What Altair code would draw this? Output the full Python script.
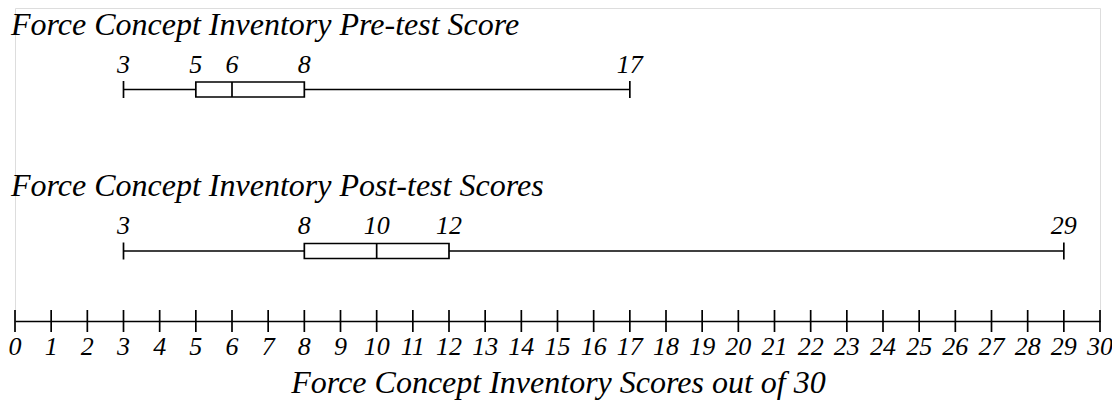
import altair as alt
import pandas as pd

# Summary statistics
groups = ["Force Concept Inventory Pre-test Score", "Force Concept Inventory Post-test Scores"]
mins = [3, 3]
q1s = [5, 8]
medians = [6, 10]
q3s = [8, 12]
maxs = [17, 29]
axis_ticks = list(range(0, 31))
axis_title = "Force Concept Inventory Scores out of 30"

FONT = "Liberation Serif"
LW = 1.7

box_df = pd.DataFrame({
    "group": groups, "row": list(range(len(groups))),
    "min": mins, "q1": q1s, "median": medians, "q3": q3s, "max": maxs,
})
long_df = box_df.melt(id_vars=["group", "row"], value_vars=["min", "q1", "median", "q3", "max"],
                      var_name="stat", value_name="value")
tick_df = pd.DataFrame({"t": axis_ticks})

xscale = alt.Scale(domain=[0, 30], nice=False, zero=True, padding=0)
yscale = alt.Scale(domain=[0, 1], range=[81.5, 243], padding=0, nice=False, zero=False)

x_axis = alt.Axis(values=axis_ticks, ticks=False, tickSize=0, grid=False, labels=False,
                  domainColor="black", domainWidth=LW,
                  title=axis_title, titleFont=FONT, titleFontStyle="italic",
                  titleFontWeight="normal", titleFontSize=32, titleColor="black",
                  titleX=543, titleY=71, titleBaseline="alphabetic", titleAlign="center")

base_axis = alt.Chart(tick_df).mark_rule(color="black", strokeWidth=LW).encode(
    x=alt.X("t:Q", scale=xscale, axis=x_axis),
    y=alt.value(302), y2=alt.value(324),
)

tick_labels = alt.Chart(tick_df).mark_text(font=FONT, fontStyle="italic", fontSize=26, color="black",
                                           baseline="alphabetic").encode(
    x=alt.X("t:Q", scale=xscale),
    y=alt.value(347),
    text="t:Q",
)

whisker = alt.Chart(box_df).mark_rule(color="black", strokeWidth=LW).encode(
    x=alt.X("min:Q", scale=xscale), x2="max:Q",
    y=alt.Y("row:Q", scale=yscale, axis=None),
)

box = alt.Chart(box_df).mark_bar(size=15, fill="white", stroke="black", strokeWidth=LW).encode(
    x=alt.X("q1:Q", scale=xscale), x2="q3:Q",
    y=alt.Y("row:Q", scale=yscale, axis=None),
)

caps = alt.Chart(long_df).transform_filter(
    "datum.stat == 'min' || datum.stat == 'max'"
).mark_tick(orient="vertical", size=17, thickness=LW, color="black", opacity=1).encode(
    x=alt.X("value:Q", scale=xscale),
    y=alt.Y("row:Q", scale=yscale, axis=None),
)

median = alt.Chart(box_df).mark_tick(orient="vertical", size=15, thickness=LW, color="black", opacity=1).encode(
    x=alt.X("median:Q", scale=xscale),
    y=alt.Y("row:Q", scale=yscale, axis=None),
)

labels = alt.Chart(long_df).mark_text(font=FONT, fontStyle="italic", fontSize=26, color="black",
                                      baseline="alphabetic", dy=-17).encode(
    x=alt.X("value:Q", scale=xscale),
    y=alt.Y("row:Q", scale=yscale, axis=None),
    text="value:Q",
)

titles = alt.Chart(box_df).mark_text(font=FONT, fontStyle="italic", fontSize=32, color="black",
                                     baseline="alphabetic", align="left", dy=-55).encode(
    x=alt.value(-4),
    y=alt.Y("row:Q", scale=yscale, axis=None),
    text="group:N",
)

chart = alt.layer(base_axis, tick_labels, whisker, box, caps, median, labels, titles).properties(
    width=1085, height=313,
    autosize=alt.AutoSizeParams(type="none"),
    padding={"left": 7, "top": 0, "right": 12, "bottom": 79},
).configure_view(stroke=None).configure(background="white")

chart.save("out.html", embed_options={"renderer": "svg", "actions": False})
